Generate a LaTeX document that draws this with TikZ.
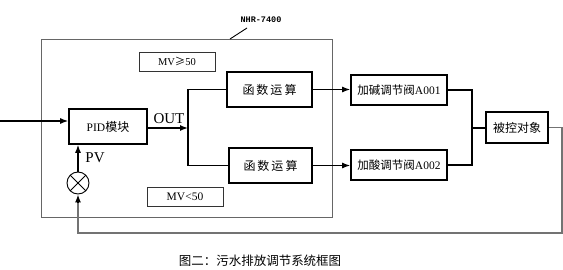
\documentclass[tikz,border=0pt]{standalone}
\usepackage{fontspec}
\setmainfont{Liberation Serif}
\newfontfamily\cjk{Noto Sans CJK SC}
\newfontfamily\monof{Liberation Mono}
\usetikzlibrary{arrows.meta,calc}
\begin{document}
\begin{tikzpicture}[x=1pt,y=-1pt,
  blk/.style={draw=black,line width=1.6pt,minimum width=#1,inner sep=0pt},
  blk/.default=78pt,
  thinbox/.style={draw=black!80,line width=0.8pt,inner sep=0pt},
  conn/.style={line width=1.4pt,draw=black},
  arr/.style={conn,-{Latex[length=8pt,width=6pt]}},
  fb/.style={line width=1.3pt,draw=black!55},
  txt/.style={font=\fontsize{11.5}{13}\selectfont},
  ctxt/.style={font=\cjk\fontsize{12}{14}\selectfont}
]
\useasboundingbox (0,0) rectangle (563,270);
% outer box
\node[draw=black!60,line width=0.9pt,minimum width=291pt,minimum height=178pt,inner sep=0pt] (outer) at (186.5,128) {};
\node[font=\monof\bfseries\fontsize{8.5}{10}\selectfont] (lbl) at (261,20) {NHR-7400};
\coordinate (lblend) at (247,28);
\draw[line width=0.9pt] (lblend) -- (230,39);
% condition boxes
\node[thinbox,minimum width=76pt,minimum height=19pt,font=\fontsize{10.5}{12}\selectfont] (mv1) at (177,61.5) {MV{\cjk ≥}50};
\node[thinbox,minimum width=76pt,minimum height=19pt,txt] (mv2) at (185,196.5) {MV<50};
% blocks
\node[blk=78pt,minimum height=35pt,txt] (pid) at (108,126.5) {PID{\cjk\fontsize{12}{14}\selectfont 模块}};
\node[blk=85pt,minimum height=35pt,ctxt] (f1) at (269.5,89.5) {函\,数\,运\,算};
\node[blk=83pt,minimum height=35pt,ctxt] (f2) at (270.5,165.5) {函\,数\,运\,算};
\node[blk=96pt,minimum height=30pt,txt] (v1) at (399,90) {{\cjk 加碱调节阀}A001};
\node[blk=96pt,minimum height=30pt,txt] (v2) at (399,165) {{\cjk 加酸调节阀}A002};
\node[blk=62pt,minimum height=31pt,ctxt] (plant) at (517,127.5) {被控对象};
% sum junction
\node[draw=black,line width=0.9pt,circle,minimum size=22pt,inner sep=0pt] (sum) at (78,183) {};
\draw[line width=0.9pt] ($(sum.center)+(45:11pt)$) -- ($(sum.center)+(225:11pt)$)
                        ($(sum.center)+(135:11pt)$) -- ($(sum.center)+(315:11pt)$);
% input
\coordinate (in) at (0,121);
\draw[arr] (in) -- (in -| pid.west);
% output and branch
\coordinate (br) at (188,128);
\draw[arr] (pid.east |- br) -- (br);
\node[font=\fontsize{15}{17}\selectfont] (outl) at (169,119) {OUT};
\draw[conn] (f1.west) -| (br) |- (f2.west);
\draw[arr] (f1.east) -- (f1.east -| v1.west);
\draw[arr] (f2.east) -- (f2.east -| v2.west);
% join to plant
\coordinate (jn) at (472,128);
\draw[conn] (v1.east) -| (jn) |- (v2.east);
\draw[conn] (jn) -- (jn -| plant.west);
% feedback
\coordinate (fbr) at (562,233);
\draw[fb] (plant.east) -| (fbr) -- (fbr -| sum.south) -- ($(sum.south)+(0,8)$);
\draw[arr] ($(sum.south)+(0,9)$) -- (sum.south);
\draw[arr] (sum.north) -- (sum.north |- pid.south);
\node[font=\fontsize{15}{17}\selectfont] (pv) at (95,158) {PV};
% caption
\node[font=\cjk\fontsize{12.5}{14}\selectfont] (cap) at (260,261) {图二：污水排放调节系统框图};
\end{tikzpicture}
\end{document}
